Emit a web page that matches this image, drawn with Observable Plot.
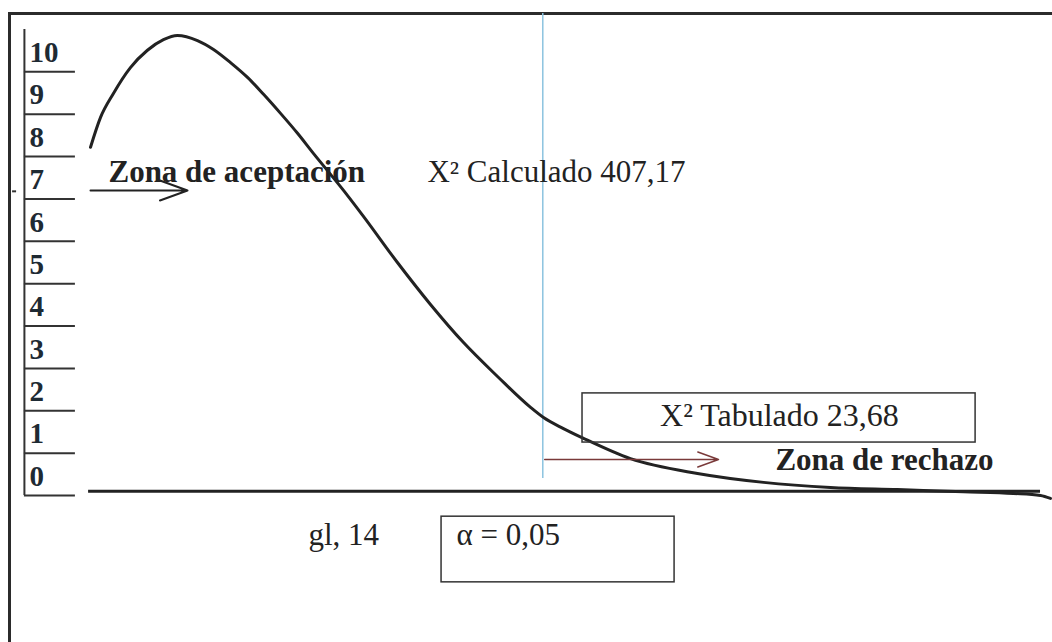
<!DOCTYPE html>
<html>
<head>
<meta charset="utf-8">
<script src="https://cdn.jsdelivr.net/npm/d3@7"></script>
<script src="https://cdn.jsdelivr.net/npm/@observablehq/plot@0.6"></script>
<style>
  html, body { margin: 0; padding: 0; background: #ffffff; width: 1052px; height: 642px; overflow: hidden; }
  #frame { position: absolute; left: 8px; top: 12px; width: 1200px; height: 800px;
           border-left: 3px solid #2b2b2b; border-top: 3px solid #2b2b2b; }
  #chart { position: absolute; left: 0; top: 0; }
</style>
</head>
<body>
<div id="frame"></div>
<div id="chart"></div>
<script>
// Curve (schematic chi-square density)
const curveX = [0, 0.52, 1.20, 2.09, 2.98, 3.82, 4.55, 5.60, 6.44, 7.33, 8.22, 9.06, 9.95, 10.84, 11.68, 12.57, 13.46, 14.29, 16.07, 17.80, 19.53, 21.31, 23.04, 23.72, 24.76, 25.81, 28.27, 31.78, 35.24, 38.74, 42.25, 45.71, 48.32, 49.74, 50.26];
const curveY = [8.22, 8.92, 9.49, 10.10, 10.51, 10.76, 10.86, 10.74, 10.53, 10.22, 9.87, 9.47, 9.02, 8.55, 8.07, 7.58, 7.08, 6.59, 5.50, 4.51, 3.61, 2.81, 2.08, 1.84, 1.58, 1.35, 0.87, 0.52, 0.31, 0.19, 0.14, 0.09, 0.05, 0.0, -0.07];

// Y scale labels
const yTicks = [0, 1, 2, 3, 4, 5, 6, 7, 8, 9, 10];
const ySeparators = [0, 1, 2, 3, 4, 5, 6, 7, 8, 9, 10];

// Key values
const chiCritical = 23.68;
const labelAccept = "Zona de aceptación";
const labelReject = "Zona de rechazo";
const labelCalc = "X² Calculado 407,17";
const labelTab = "X² Tabulado 23,68";
const labelGl = "gl, 14";
const labelAlpha = "α = 0,05";

const curve = curveX.map((x, i) => ({x, y: curveY[i]}));
const serif = "'Liberation Serif', 'Times New Roman', 'DejaVu Serif', serif";

const chart = Plot.plot({
  width: 1052,
  height: 642,
  marginLeft: 90,
  marginRight: 7,
  marginTop: 29,
  marginBottom: 147,
  x: {domain: [0, 50], axis: null},
  y: {domain: [0, 11], axis: null},
  style: {fontFamily: serif, background: "transparent", overflow: "visible", color: "#222"},
  marks: [
    // y label column
    Plot.ruleX([-3.46], {y1: 0, y2: 11, stroke: "#333", strokeWidth: 2}),
    Plot.ruleY(ySeparators, {x1: -3.46, x2: -0.79, stroke: "#333", strokeWidth: 2}),
    Plot.text(yTicks, {x: -3.19, y: d => d + 0.45, text: d => String(d), textAnchor: "start",
      fontSize: 29, fontWeight: "bold", fill: "#1e2a33", fontFamily: serif}),
    Plot.ruleY([7.18], {x1: -4.08, x2: -3.87, stroke: "#333", strokeWidth: 2}),
    // baseline
    Plot.ruleY([0.1], {x1: -0.1, x2: 49.74, stroke: "#222", strokeWidth: 3}),
    // critical value line
    Plot.ruleX([chiCritical], {y1: 0.40, y2: 11.38, stroke: "#8cc3df", strokeWidth: 1.5}),
    // curve
    Plot.line(curve, {x: "x", y: "y", curve: "monotone-x", stroke: "#222", strokeWidth: 3}),
    // acceptance arrow and label
    Plot.arrow([{x1: 0, x2: 5.08, y: 7.20}], {x1: "x1", x2: "x2", y1: "y", y2: "y",
      stroke: "#222", strokeWidth: 2, headLength: 22, headAngle: 40}),
    Plot.text([labelAccept], {x: 0.94, y: 7.41, text: d => d, textAnchor: "start", lineAnchor: "bottom",
      fontSize: 31, fontWeight: "bold", fill: "#222", fontFamily: serif}),
    Plot.text([labelCalc], {x: 17.64, y: 7.41, text: d => d, textAnchor: "start", lineAnchor: "bottom",
      fontSize: 31, fill: "#222", fontFamily: serif}),
    // tabulated box
    Plot.rect([{x1: 25.76, x2: 46.34, y1: 1.25, y2: 2.41}], {x1: "x1", x2: "x2", y1: "y1", y2: "y2",
      fill: "none", stroke: "#333", strokeWidth: 1.5}),
    Plot.text([labelTab], {x: 36.07, y: 1.65, text: d => d, textAnchor: "middle", lineAnchor: "bottom",
      fontSize: 32, fill: "#222", fontFamily: serif}),
    // rejection arrow and label
    Plot.arrow([{x1: 23.78, x2: 32.88, y: 0.85}], {x1: "x1", x2: "x2", y1: "y", y2: "y",
      stroke: "#7a3a3a", strokeWidth: 1.5, headLength: 22, headAngle: 40}),
    Plot.text([labelReject], {x: 35.86, y: 0.61, text: d => d, textAnchor: "start", lineAnchor: "bottom",
      fontSize: 31, fontWeight: "bold", fill: "#222", fontFamily: serif}),
    // degrees of freedom and alpha
    Plot.text([labelGl], {x: 11.41, y: -1.18, text: d => d, textAnchor: "start", lineAnchor: "bottom",
      fontSize: 31, fill: "#222", fontFamily: serif}),
    Plot.rect([{x1: 18.38, x2: 30.58, y1: -2.05, y2: -0.50}], {x1: "x1", x2: "x2", y1: "y1", y2: "y2",
      fill: "none", stroke: "#333", strokeWidth: 1.5}),
    Plot.text([labelAlpha], {x: 19.16, y: -1.18, text: d => d, textAnchor: "start", lineAnchor: "bottom",
      fontSize: 31, fill: "#222", fontFamily: serif})
  ]
});
document.getElementById("chart").appendChild(chart);
</script>
</body>
</html>
